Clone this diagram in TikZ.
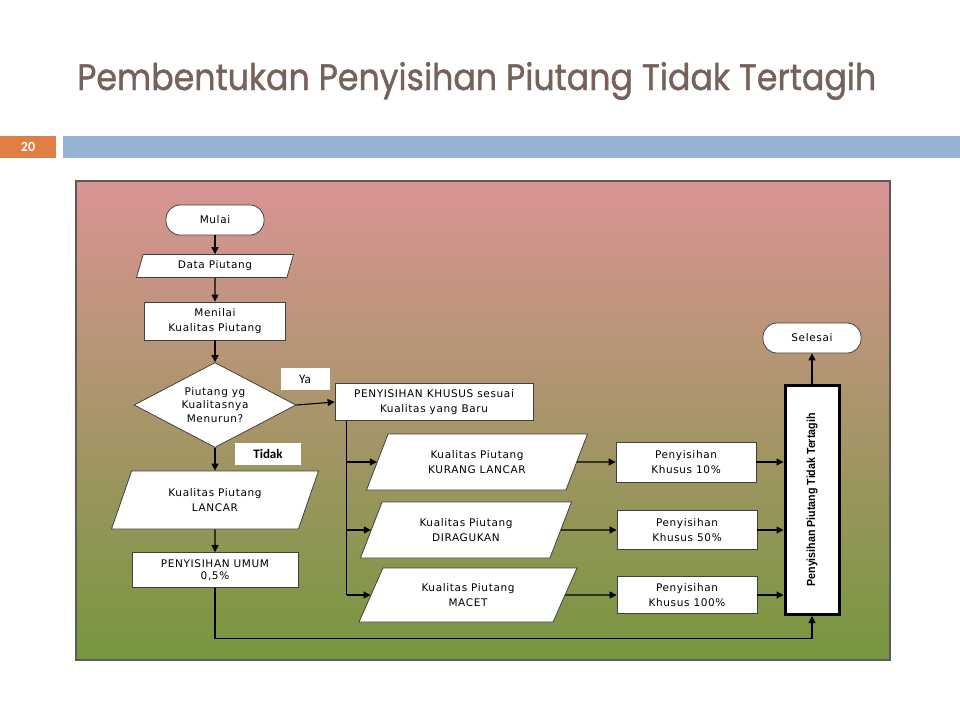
\documentclass[tikz,border=0pt]{standalone}
\usepackage{fontspec}
\usepackage{graphicx}
\setmainfont[LetterSpace=6]{DejaVu Sans}
\newfontfamily\titlefont[FakeBold=1.2]{Poppins}
\newfontfamily\tagfont{Carlito}
\newfontfamily\narrowfont{Liberation Sans}
\usetikzlibrary{shapes.geometric,arrows.meta,calc}
\definecolor{titlebrown}{HTML}{76625A}
\definecolor{slideorange}{HTML}{E07E45}
\definecolor{slideblue}{HTML}{95B3D3}
\definecolor{paneltop}{HTML}{DA9494}
\definecolor{panelmid}{HTML}{AC9672}
\definecolor{panelbottom}{HTML}{76963E}
\definecolor{panelframe}{HTML}{5A5A5A}
\tikzset{
  % flowchart node styles
  term node/.style={rectangle,rounded corners=14pt,draw=black!75,fill=white,
    minimum width=98pt,minimum height=30pt,line width=0.8pt},
  proc node/.style={rectangle,draw=black!75,fill=white,align=center,
    inner sep=0pt,line width=0.8pt},
  io node/.style={trapezium,trapezium stretches body,draw=black!75,fill=white,
    align=center,inner sep=0pt,line width=0.8pt},
  decision node/.style={diamond,draw=black!75,fill=white,align=center,
    inner sep=0pt,aspect=1.9,minimum width=162pt,minimum height=85pt,line width=0.8pt},
  tag node/.style={fill=white,inner sep=0pt,font=\tagfont\fontsize{13}{13}\selectfont},
  arr/.style={draw,black,line width=1.1pt,-{Triangle[length=7pt,width=7pt]}}
}

\begin{document}
\begin{tikzpicture}[x=1pt,y=-1pt,
  every node/.append style={font=\fontsize{10.5}{15}\selectfont}]
\useasboundingbox (0,0) rectangle (960,720);
% slide header
\node[anchor=base west,inner sep=0pt,text=titlebrown] (judul) at (77,90)
  {\resizebox{799pt}{28pt}{\titlefont Pembentukan Penyisihan Piutang Tidak Tertagih}};
\fill[slideorange] (0,136) rectangle (56,158);
\fill[slideblue] (63,136) rectangle (960,158);
\node[text=white,font=\tagfont\bfseries\fontsize{14}{14}\selectfont] (nomor) at (28,147) {20};
% panel
\shade[top color=paneltop,middle color=panelmid,bottom color=panelbottom]
  (76,181) rectangle (890,660);
\draw[panelframe,line width=2pt] (76,181) rectangle (890,660);

\node[term node] (mulai) at (215,220) {Mulai};
\node[io node,trapezium left angle=57,trapezium right angle=123,
  minimum width=157pt,minimum height=23pt] (data) at (215,266) {Data Piutang};
\node[proc node,minimum width=141pt,minimum height=38pt] (nilai) at (215,321)
  {Menilai\\Kualitas Piutang};
\node[decision node,font=\fontsize{10.5}{13.5}\selectfont] (turun) at (215,405)
  {Piutang yg\\Kualitasnya\\Menurun?};
\node[io node,trapezium left angle=49,trapezium right angle=131,
  minimum width=207pt,minimum height=58pt] (lancar) at (215,500)
  {Kualitas Piutang\\LANCAR};
\node[proc node,minimum width=166pt,minimum height=35pt,
  font=\fontsize{10.5}{12.5}\selectfont] (umum) at (215,570)
  {PENYISIHAN UMUM\\0,5\%};

\node[proc node,minimum width=198pt,minimum height=37pt] (khusus) at (434,402)
  {PENYISIHAN KHUSUS sesuai\\Kualitas yang Baru};
\node[io node,trapezium left angle=47,trapezium right angle=133,
  minimum width=221pt,minimum height=56pt] (kurang) at (477,462)
  {Kualitas Piutang\\KURANG LANCAR};
\node[io node,trapezium left angle=47,trapezium right angle=133,
  minimum width=211pt,minimum height=56pt] (ragu) at (466,530)
  {Kualitas Piutang\\DIRAGUKAN};
\node[io node,trapezium left angle=44,trapezium right angle=136,
  minimum width=218pt,minimum height=54pt] (macet) at (468,595)
  {Kualitas Piutang\\MACET};

\node[proc node,minimum width=140pt,minimum height=40pt] (k10) at (686,462)
  {Penyisihan\\Khusus 10\%};
\node[proc node,minimum width=140pt,minimum height=39pt] (k50) at (687,530)
  {Penyisihan\\Khusus 50\%};
\node[proc node,minimum width=140pt,minimum height=37pt] (k100) at (687,595)
  {Penyisihan\\Khusus 100\%};

\node[proc node,line width=3pt,draw=black,minimum width=54pt,minimum height=229pt]
  (tertagih) at (812,500)
  {\rotatebox{90}{\resizebox{173pt}{8.5pt}{\narrowfont\bfseries Penyisihan Piutang Tidak Tertagih}}};
\node[term node] (selesai) at (812,338) {Selesai};

\node[tag node,minimum width=49pt,minimum height=22pt] (ya) at (305,379) {Ya};
\node[tag node,minimum width=66pt,minimum height=22pt,font=\tagfont\bfseries\fontsize{13}{13}\selectfont]
  (tidak) at (268,454) {Tidak};

% connectors
\draw[arr] (mulai) -- (data);
\draw[arr] (data) -- (nilai);
\draw[arr] (nilai) -- (turun);
\draw[arr] (turun) -- (lancar);
\draw[arr] (lancar) -- (umum);
\draw[arr] (turun.east) -- (khusus.west);
\coordinate (cabang) at ($(khusus.south west)+(12,0)$);
\draw[line width=1.1pt] (cabang) -- (cabang |- macet.west);
\foreach \n/\k in {kurang/k10,ragu/k50,macet/k100}{
  \draw[arr] (cabang |- \n.west) -- (\n.west);
  \draw[arr] (\n.east) -- (\k.west);
  \draw[arr] (\k.east) -- (\k.east -| tertagih.west);
}
\draw[arr] (umum.south) -- ++(0,51) -| (tertagih.south);
\draw[arr] (tertagih.north) -- (selesai.south);
\end{tikzpicture}
\end{document}
